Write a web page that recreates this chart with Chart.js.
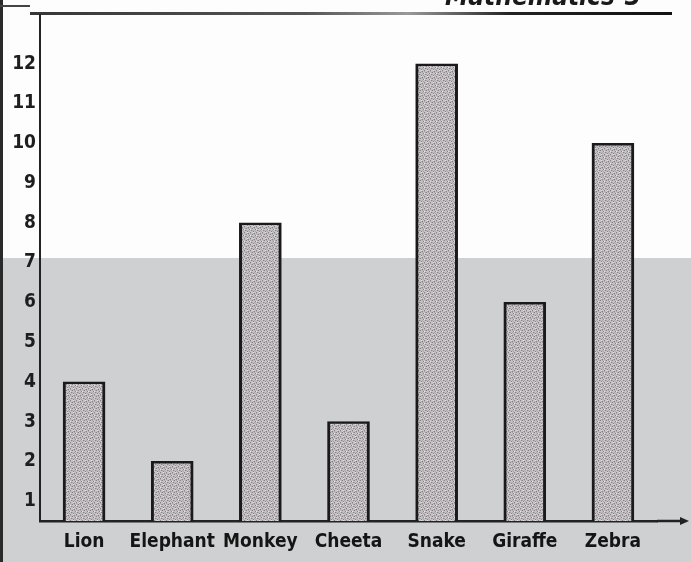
<!DOCTYPE html>
<html>
<head>
<meta charset="utf-8">
<script src="https://cdn.jsdelivr.net/npm/chart.js@4/dist/chart.umd.min.js"></script>
<style>
  html, body { margin: 0; padding: 0; background: #fff; }
  #wrap { width: 691px; height: 562px; }
</style>
</head>
<body>
<div id="wrap"><canvas id="animalChart" width="691" height="562"></canvas></div>
<script>
const animals = ['Lion', 'Elephant', 'Monkey', 'Cheeta', 'Snake', 'Giraffe', 'Zebra'];
const counts = [4, 2, 8, 3, 12, 6, 10];
const yTicks = [1, 2, 3, 4, 5, 6, 7, 8, 9, 10, 11, 12];
const headerText = 'Mathematics-3';

// stippled fill for the bars, like the printed page
function makeStipple() {
    const c = document.createElement('canvas');
    c.width = 6;
    c.height = 6;
    const g = c.getContext('2d');
    g.fillStyle = '#c6c2c5';
    g.fillRect(0, 0, 6, 6);
    const dark = [[0, 0], [3, 1], [1, 3], [4, 4], [5, 2], [2, 5]];
    const mid = [[2, 0], [5, 0], [0, 2], [3, 3], [1, 5], [4, 5], [2, 2]];
    g.fillStyle = '#858084';
    dark.forEach(function(p) { g.fillRect(p[0], p[1], 1, 1); });
    g.fillStyle = '#aba6aa';
    mid.forEach(function(p) { g.fillRect(p[0], p[1], 1, 1); });
    g.fillStyle = '#e4e1e3';
    g.fillRect(4, 1, 1, 1);
    g.fillRect(1, 4, 1, 1);
    return g.createPattern(c, 'repeat');
}

const paperPlugin = {
    id: 'paper',
    beforeDraw: function(chart) {
        const ctx = chart.ctx;
        const w = chart.width, h = chart.height;
        ctx.save();
        ctx.fillStyle = '#fdfdfd';
        ctx.fillRect(0, 0, w, h);
        // grey band of the scan
        ctx.fillStyle = '#cfd0d2';
        ctx.fillRect(0, 258, w, h - 258);
        // page edge on the left
        ctx.fillStyle = '#2a2a2a';
        ctx.fillRect(0, 0, 3, h);
        // header rule
        const grad = ctx.createLinearGradient(0, 0, 680, 0);
        grad.addColorStop(0, '#333');
        grad.addColorStop(0.45, '#555');
        grad.addColorStop(0.6, '#999');
        grad.addColorStop(0.75, '#222');
        grad.addColorStop(1, '#111');
        ctx.fillStyle = grad;
        ctx.fillRect(30, 12, 642, 3);
        ctx.fillStyle = '#444';
        ctx.fillRect(0, 5, 30, 2);
        // header text, cut by the top edge
        ctx.fillStyle = '#1a1a1a';
        ctx.font = 'italic bold 26px "DejaVu Sans Condensed", "DejaVu Sans", sans-serif';
        ctx.textBaseline = 'alphabetic';
        ctx.fillText(headerText, 445, 5);
        ctx.restore();
    },
    afterDraw: function(chart) {
        const ctx = chart.ctx;
        const area = chart.chartArea;
        ctx.save();
        ctx.strokeStyle = '#222';
        ctx.lineWidth = 2.5;
        // x axis runs on to an arrow
        ctx.beginPath();
        ctx.moveTo(area.right, area.bottom);
        ctx.lineTo(684, area.bottom);
        ctx.stroke();
        ctx.fillStyle = '#222';
        ctx.beginPath();
        ctx.moveTo(689, area.bottom);
        ctx.lineTo(680, area.bottom - 4);
        ctx.lineTo(680, area.bottom + 4);
        ctx.closePath();
        ctx.fill();
        // y axis reaches the header rule
        ctx.lineWidth = 2;
        ctx.beginPath();
        ctx.moveTo(area.left, 14);
        ctx.lineTo(area.left, area.top);
        ctx.stroke();
        ctx.restore();
    }
};

document.addEventListener('DOMContentLoaded', function() {
    const ctx = document.getElementById('animalChart').getContext('2d');
    const chartData = {
        labels: animals,
        datasets: [{
            label: 'Animals',
            data: counts,
            backgroundColor: makeStipple(),
            borderColor: '#1a1a1a',
            borderWidth: { left: 3, right: 3, top: 2.5, bottom: 0 },
            borderSkipped: 'bottom',
            barThickness: 42
        }]
    };
    const config = {
        type: 'bar',
        data: chartData,
        options: {
            responsive: false,
            animation: false,
            devicePixelRatio: 1,
            layout: {
                padding: { top: 24, right: 34, bottom: 0, left: 0 }
            },
            plugins: {
                legend: { display: false },
                tooltip: { enabled: false }
            },
            scales: {
                x: {
                    grid: { display: false, drawTicks: false },
                    border: { display: true, color: '#222', width: 2.5 },
                    ticks: {
                        color: '#151515',
                        padding: 10,
                        font: { family: '"DejaVu Sans Condensed", "DejaVu Sans", sans-serif', size: 19, weight: 'bold' },
                        maxRotation: 0,
                        autoSkip: false
                    },
                    afterFit: function(scale) { scale.height = 41; }
                },
                y: {
                    min: 0.5,
                    max: 13,
                    grid: { display: false, drawTicks: false },
                    border: { display: true, color: '#222', width: 2 },
                    ticks: {
                        color: '#1e1e1e',
                        padding: 4,
                        font: { family: '"DejaVu Sans Condensed", "DejaVu Sans", sans-serif', size: 19, weight: 'bold' }
                    },
                    afterBuildTicks: function(scale) {
                        scale.ticks = yTicks.map(function(v) { return { value: v }; });
                    },
                    afterFit: function(scale) { scale.width = 40; }
                }
            }
        },
        plugins: [paperPlugin]
    };
    new Chart(ctx, config);
});
</script>
</body>
</html>
